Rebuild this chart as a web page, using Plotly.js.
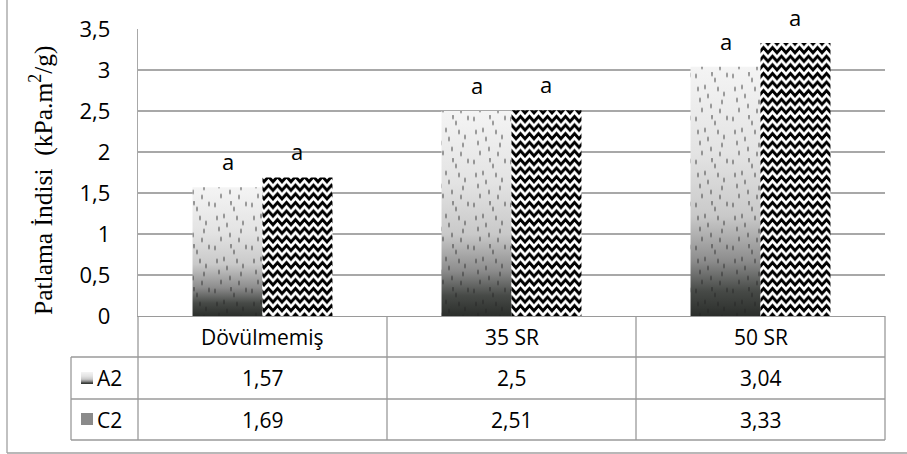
<!DOCTYPE html>
<html><head><meta charset="utf-8">
<script src="https://cdn.plot.ly/plotly-3.0.1.min.js"></script>
<style>html,body{margin:0;padding:0;background:#fff}#chart{width:907px;height:454px}</style>
</head><body><div id="chart"></div>
<script>
const categories = ['Dövülmemiş', '35 SR', '50 SR'];
const seriesNames = ['A2', 'C2'];
const valuesA2 = [1.57, 2.5, 3.04];
const valuesC2 = [1.69, 2.51, 3.33];
const sigLetters = [['a', 'a', 'a'], ['a', 'a', 'a']];
const yTicks = [0, 0.5, 1, 1.5, 2, 2.5, 3, 3.5];

const W = 907, H = 454;
const mL = 138, mR = 22, mT = 29, mB = 138;
const pw = W - mL - mR, ph = H - mT - mB;
const px2x = p => (p - mL) / pw;
const py2y = p => (H - mB - p) / ph;
const bargap = 0.438;
const gridCol = '#a8a8a8';
const tblCol = '#9a9a9a';
const font = '"Open Sans", Lato, sans-serif';
const fmt = v => String(v).replace('.', ',');

const traces = [valuesA2, valuesC2].map((vals, s) => ({
  type: 'bar', x: categories, y: vals, name: seriesNames[s],
  marker: {color: s === 0 ? '#cccccc' : '#000000', line: {width: 0}},
  hoverinfo: 'none', showlegend: false
}));

const annotations = [];
const half = (1 - bargap) / 4;
[valuesA2, valuesC2].forEach((vals, s) => {
  vals.forEach((v, i) => {
    annotations.push({xref: 'x', yref: 'y', x: i + (s === 0 ? -half : half), y: v,
      text: sigLetters[s][i], showarrow: false, yanchor: 'bottom', yshift: 9,
      font: {family: font, size: 22, color: '#000'}});
  });
});
// table rows
const rowTop = [H - mB, 357, 399, 440];
categories.forEach((c, i) => {
  annotations.push({xref: 'x', yref: 'paper', x: i, y: py2y((rowTop[0] + rowTop[1]) / 2),
    text: c, showarrow: false, yanchor: 'middle', font: {family: font, size: 21, color: '#000'}});
});
[valuesA2, valuesC2].forEach((vals, s) => {
  vals.forEach((v, i) => {
    annotations.push({xref: 'x', yref: 'paper', x: i, y: py2y((rowTop[s + 1] + rowTop[s + 2]) / 2),
      text: fmt(v), showarrow: false, yanchor: 'middle', font: {family: font, size: 21, color: '#000'}});
  });
  annotations.push({xref: 'paper', yref: 'paper', x: px2x(95), xanchor: 'left',
    y: py2y((rowTop[s + 1] + rowTop[s + 2]) / 2), text: seriesNames[s], showarrow: false,
    yanchor: 'middle', font: {family: font, size: 21, color: '#000'}});
});
annotations.push({xref: 'paper', yref: 'paper', x: px2x(41), y: py2y(180), textangle: -90,
  text: 'Patlama İndisi  (kPa.m<sup>2</sup>/g)', showarrow: false, xanchor: 'center', yanchor: 'middle',
  font: {family: '"Liberation Serif", "Times New Roman", serif', size: 25.5, color: '#000'}});

const L = (x0, y0, x1, y1, col, w) => ({type: 'line', xref: 'paper', yref: 'paper',
  x0: px2x(x0), x1: px2x(x1), y0: py2y(y0), y1: py2y(y1), line: {color: col, width: w}});
const shapes = [
  L(71, 357, 885, 357, tblCol, 1.3), L(71, 399, 885, 399, tblCol, 1.3), L(71, 440, 885, 440, tblCol, 1.3),
  L(71, 357, 71, 440, tblCol, 1.3), L(138, 316, 138, 440, tblCol, 1.3),
  L(387, 316, 387, 440, tblCol, 1.3), L(636, 316, 636, 440, tblCol, 1.3), L(885, 316, 885, 440, tblCol, 1.3),
  L(7, -5, 7, 453, '#a0a0a0', 1.3), L(7, 453, 912, 453, '#a0a0a0', 1.3),
  {type: 'rect', xref: 'paper', yref: 'paper', x0: px2x(81), x1: px2x(93), y0: py2y(372), y1: py2y(384),
   line: {width: 0}, fillcolor: '#999'},
  {type: 'rect', xref: 'paper', yref: 'paper', x0: px2x(81), x1: px2x(93), y0: py2y(413), y1: py2y(425),
   line: {width: 0}, fillcolor: '#8a8a8a'}
];

const layout = {
  width: W, height: H, margin: {l: mL, r: mR, t: mT, b: mB},
  paper_bgcolor: '#fff', plot_bgcolor: '#fff', separators: ',.',
  barmode: 'group', bargap: bargap, bargroupgap: 0, showlegend: false,
  xaxis: {type: 'category', range: [-0.5, 2.5], showticklabels: false, ticks: '',
    showgrid: false, showline: true, linecolor: tblCol, linewidth: 1.3, zeroline: false, fixedrange: true},
  yaxis: {range: [0, 3.5], tickvals: yTicks, ticktext: yTicks.map(fmt), ticks: '',
    showgrid: true, gridcolor: gridCol, gridwidth: 1.3, showline: true, linecolor: gridCol, linewidth: 1.3,
    zeroline: false, ticklabelstandoff: 22, tickfont: {family: font, size: 22, color: '#000'}, fixedrange: true},
  annotations: annotations, shapes: shapes
};

const NS = 'http://www.w3.org/2000/svg';
function el(tag, attrs, parent) {
  const e = document.createElementNS(NS, tag);
  for (const k in attrs) e.setAttribute(k, attrs[k]);
  if (parent) parent.appendChild(e);
  return e;
}

Plotly.newPlot('chart', traces, layout, {staticPlot: true, displayModeBar: false}).then(gd => {
  const svg = gd.querySelector('svg.main-svg');
  let defs = svg.querySelector('defs') || el('defs', {}, svg);
  const g = el('linearGradient', {id: 'gA2', x1: 0, y1: 0, x2: 0, y2: 1}, defs);
  [[0, '#f4f4f4'], [0.35, '#e3e3e3'], [0.6, '#c9c9c9'], [0.78, '#8c8c8c'], [0.9, '#474a47'], [1, '#2b2e2b']]
    .forEach(([o, c]) => el('stop', {offset: o, 'stop-color': c}, g));
  const sp = el('pattern', {id: 'speck', patternUnits: 'userSpaceOnUse', width: 37, height: 43}, defs);
  [[3, 4], [12, 15], [22, 8], [31, 22], [7, 28], [18, 34], [27, 39], [34, 3], [15, 24], [25, 17], [9, 38], [29, 30], [19, 2], [5, 17]].forEach(([x, y]) =>
    el('ellipse', {cx: x, cy: y, rx: 1.0, ry: 2.8, fill: '#222', 'fill-opacity': 0.45}, sp));
  const zz = el('pattern', {id: 'zig', patternUnits: 'userSpaceOnUse', width: 9, height: 8.6}, defs);
  el('rect', {x: 0, y: 0, width: 9, height: 8.6, fill: '#fff'}, zz);
  [-8.6, 0, 8.6].forEach(dy => {
    const a = 1.5 + dy, b = 6.5 + dy;
    el('path', {d: `M-4.5,${a} L0,${b} L4.5,${a} L9,${b} L13.5,${a}`, fill: 'none', stroke: '#000',
      'stroke-width': 3.0, 'stroke-linejoin': 'miter'}, zz);
  });
  const tr = gd.querySelectorAll('.barlayer .trace');
  tr[0].querySelectorAll('.point path').forEach(p => {
    p.style.fill = 'url(#gA2)';
    const c = p.cloneNode(true);
    c.style.fill = 'url(#speck)';
    p.parentNode.appendChild(c);
  });
  tr[1].querySelectorAll('.point path').forEach(p => { p.style.fill = 'url(#zig)'; });
  const rects = gd.querySelectorAll('.shapelayer path');
  rects.forEach(p => {
    if (p.getAttribute('data-index') === String(shapes.length - 2)) p.style.fill = 'url(#gA2)';
  });
});
</script></body></html>
